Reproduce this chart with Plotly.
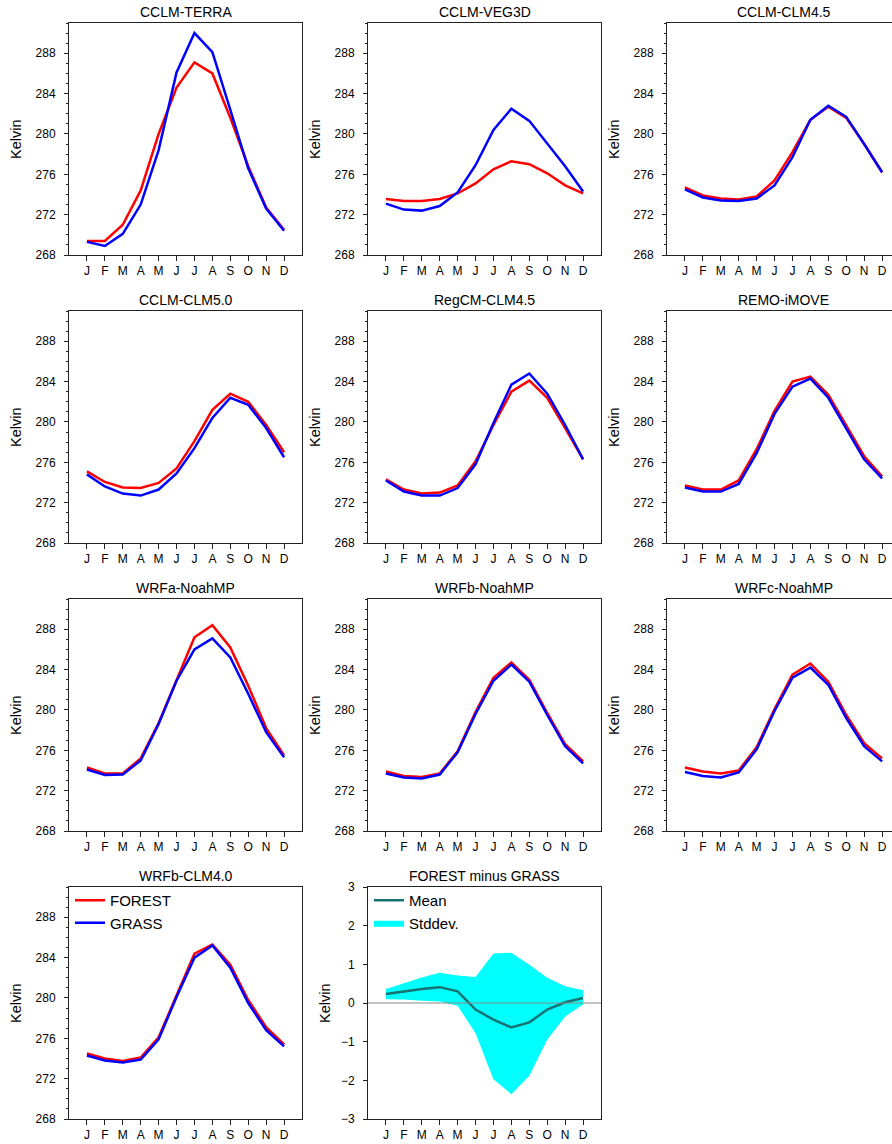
import plotly.graph_objects as go

months = ["J", "F", "M", "A", "M", "J", "J", "A", "S", "O", "N", "D"]
month_idx = list(range(12))

titles = ["CCLM-TERRA", "CCLM-VEG3D", "CCLM-CLM4.5",
          "CCLM-CLM5.0", "RegCM-CLM4.5", "REMO-iMOVE",
          "WRFa-NoahMP", "WRFb-NoahMP", "WRFc-NoahMP",
          "WRFb-CLM4.0"]

forest_terra = [269.4, 269.4, 271.0, 274.4, 280.0, 284.6, 287.1, 286.0, 281.6, 276.8, 272.7, 270.5]
grass_terra = [269.3, 268.9, 270.1, 273.0, 278.4, 286.1, 290.0, 288.1, 282.4, 276.6, 272.6, 270.4]

forest_veg3d = [273.55, 273.35, 273.35, 273.55, 274.1, 275.1, 276.5, 277.3, 277.0, 276.1, 274.9, 274.1]
grass_veg3d = [273.1, 272.5, 272.4, 272.85, 274.2, 276.9, 280.4, 282.5, 281.3, 279.0, 276.8, 274.3]

forest_clm45 = [274.7, 273.9, 273.6, 273.5, 273.8, 275.4, 278.2, 281.4, 282.7, 281.6, 279.0, 276.2]
grass_clm45 = [274.5, 273.7, 273.4, 273.35, 273.6, 274.9, 277.7, 281.4, 282.8, 281.7, 279.0, 276.2]

forest_clm50 = [275.1, 274.05, 273.5, 273.45, 273.95, 275.4, 278.1, 281.2, 282.8, 282.0, 279.7, 277.0]
grass_clm50 = [274.8, 273.6, 272.9, 272.7, 273.3, 274.9, 277.4, 280.4, 282.4, 281.7, 279.4, 276.5]

forest_regcm = [274.3, 273.3, 272.9, 273.0, 273.7, 276.1, 279.7, 283.0, 284.1, 282.4, 279.4, 276.3]
grass_regcm = [274.2, 273.1, 272.7, 272.7, 273.45, 275.8, 279.9, 283.7, 284.8, 282.8, 279.7, 276.3]

forest_remo = [273.7, 273.3, 273.3, 274.2, 277.3, 281.1, 284.0, 284.5, 282.7, 279.7, 276.6, 274.6]
grass_remo = [273.5, 273.1, 273.1, 273.85, 276.9, 280.8, 283.5, 284.3, 282.4, 279.4, 276.3, 274.4]

forest_wrfa = [274.3, 273.7, 273.7, 275.2, 278.7, 283.0, 287.2, 288.4, 286.2, 282.4, 278.2, 275.5]
grass_wrfa = [274.1, 273.55, 273.6, 275.0, 278.6, 282.9, 286.0, 287.1, 285.2, 281.6, 277.8, 275.3]

forest_wrfb = [273.9, 273.45, 273.35, 273.7, 275.9, 279.8, 283.2, 284.7, 283.0, 279.7, 276.6, 274.9]
grass_wrfb = [273.7, 273.3, 273.2, 273.6, 275.8, 279.6, 282.9, 284.5, 282.8, 279.5, 276.4, 274.7]

forest_wrfc = [274.3, 273.9, 273.7, 274.0, 276.3, 280.1, 283.5, 284.6, 282.8, 279.5, 276.7, 275.2]
grass_wrfc = [273.85, 273.45, 273.3, 273.8, 276.1, 279.9, 283.2, 284.2, 282.5, 279.2, 276.4, 274.9]

forest_wrfb_clm40 = [274.5, 274.0, 273.75, 274.1, 276.1, 280.3, 284.4, 285.3, 283.3, 279.8, 277.1, 275.4]
grass_wrfb_clm40 = [274.3, 273.8, 273.6, 273.9, 275.9, 280.1, 284.0, 285.2, 283.0, 279.5, 276.8, 275.2]

diff_mean = [0.23, 0.30, 0.36, 0.41, 0.30, -0.17, -0.43, -0.63, -0.50, -0.17, 0.02, 0.13]
diff_upper = [0.36, 0.52, 0.66, 0.78, 0.71, 0.67, 1.28, 1.30, 0.99, 0.65, 0.43, 0.33]
diff_lower = [0.10, 0.09, 0.06, 0.04, -0.07, -0.78, -1.97, -2.36, -1.88, -0.95, -0.35, -0.04]

forest_all = [forest_terra, forest_veg3d, forest_clm45, forest_clm50, forest_regcm,
              forest_remo, forest_wrfa, forest_wrfb, forest_wrfc, forest_wrfb_clm40]
grass_all = [grass_terra, grass_veg3d, grass_clm45, grass_clm50, grass_regcm,
             grass_remo, grass_wrfa, grass_wrfb, grass_wrfc, grass_wrfb_clm40]

# ---------------- layout geometry (pixels) ----------------
W, H = 892, 1144
col_left = [69, 368, 667]
plot_w = 233
row_top = [23, 311, 599, 887]
plot_h = 232
px_per_month = 233 / 13.0

FONT = "Liberation Sans, Arial, Helvetica, sans-serif"
RED = "#ff0000"
BLUE = "#0000ff"
TEAL = "#187272"
CYAN = "#00ffff"

fig = go.Figure()
layout = dict(
    width=W, height=H,
    margin=dict(l=0, r=0, t=0, b=0, pad=0, autoexpand=False),
    paper_bgcolor="white", plot_bgcolor="white",
    font=dict(family=FONT, size=12, color="black"),
    annotations=[], shapes=[],
)


def axis_names(i):
    s = "" if i == 1 else str(i)
    return "x" + s, "y" + s, "xaxis" + s, "yaxis" + s


def add_axes(i, r, c, yrange, ytickvals, minor):
    xn, yn, xk, yk = axis_names(i)
    x0 = col_left[c]
    x1 = min(x0 + plot_w, W)
    xmax = -1 + (x1 - x0) / px_per_month
    y0 = row_top[r]
    y1 = y0 + plot_h
    common = dict(showline=True, linecolor="#222", linewidth=1, mirror=True,
                  showgrid=False, zeroline=False, ticks="outside",
                  tickcolor="#222", tickwidth=1, fixedrange=True, automargin=False,
                  tickfont=dict(family=FONT, size=12, color="black"))
    layout[xk] = dict(common, domain=[x0 / W, x1 / W], range=[-1, xmax],
                      tickvals=month_idx, ticktext=months, ticklen=5,
                      anchor=yn)
    ydict = dict(common, domain=[1 - y1 / H, 1 - y0 / H], range=yrange,
                 tickvals=ytickvals, ticklen=4, anchor=xn,
                 ticklabelstandoff=6)
    if minor:
        ydict["minor"] = dict(dtick=1, tick0=268, ticklen=2.5, ticks="outside",
                              tickcolor="#222", tickwidth=1)
    layout[yk] = ydict
    return xn, yn, x0, x1, y0, y1


temp_ticks = [268, 272, 276, 280, 284, 288]

for i in range(10):
    r, c = divmod(i, 3)
    xn, yn, x0, x1, y0, y1 = add_axes(i + 1, r, c, [268, 291], temp_ticks, True)
    show = (i == 9)
    fig.add_trace(go.Scatter(x=month_idx, y=forest_all[i], mode="lines",
                             line=dict(color=RED, width=2.5), name="FOREST",
                             showlegend=show, legend="legend", legendrank=1,
                             xaxis=xn, yaxis=yn, hoverinfo="skip"))
    fig.add_trace(go.Scatter(x=month_idx, y=grass_all[i], mode="lines",
                             line=dict(color=BLUE, width=2.5), name="GRASS",
                             showlegend=show, legend="legend", legendrank=2,
                             xaxis=xn, yaxis=yn, hoverinfo="skip"))
    cx = (col_left[c] + col_left[c] + plot_w) / 2
    layout["annotations"].append(dict(
        text=titles[i], x=cx / W, y=1 - (y0 - 1) / H, xref="paper", yref="paper",
        xanchor="center", yanchor="bottom", showarrow=False,
        font=dict(family=FONT, size=14, color="black")))
    layout["annotations"].append(dict(
        text="Kelvin", x=(col_left[c] - 53) / W, y=1 - (y0 + plot_h / 2) / H,
        xref="paper", yref="paper", xanchor="center", yanchor="middle",
        textangle=-90, showarrow=False,
        font=dict(family=FONT, size=14.5, color="black")))

# ---------------- difference panel ----------------
xn, yn, x0, x1, y0, y1 = add_axes(11, 3, 1, [-3, 3], [-3, -2, -1, 0, 1, 2, 3], False)
fig.add_trace(go.Scatter(x=month_idx, y=diff_lower, mode="lines",
                         line=dict(width=0, color=CYAN), showlegend=False,
                         legend="legend2", xaxis=xn, yaxis=yn, hoverinfo="skip"))
fig.add_trace(go.Scatter(x=month_idx, y=diff_upper, mode="lines", fill="tonexty",
                         fillcolor=CYAN, line=dict(width=0, color=CYAN),
                         name="Stddev.", legend="legend2", legendrank=2,
                         xaxis=xn, yaxis=yn, hoverinfo="skip"))
fig.add_trace(go.Scatter(x=month_idx, y=diff_mean, mode="lines",
                         line=dict(color=TEAL, width=2.5), name="Mean",
                         legend="legend2", legendrank=1,
                         xaxis=xn, yaxis=yn, hoverinfo="skip"))
layout["shapes"].append(dict(type="line", xref="x11 domain", yref="y11",
                             x0=0, x1=1, y0=0, y1=0, layer="above",
                             line=dict(color="#888888", width=1.2)))
cx = (col_left[1] + col_left[1] + plot_w) / 2
layout["annotations"].append(dict(
    text="FOREST minus GRASS", x=cx / W, y=1 - (y0 - 1) / H, xref="paper", yref="paper",
    xanchor="center", yanchor="bottom", showarrow=False,
    font=dict(family=FONT, size=14, color="black")))
layout["annotations"].append(dict(
    text="Kelvin", x=(col_left[1] - 43) / W, y=1 - (y0 + plot_h / 2) / H,
    xref="paper", yref="paper", xanchor="center", yanchor="middle",
    textangle=-90, showarrow=False,
    font=dict(family=FONT, size=14.5, color="black")))

# legends
layout["legend"] = dict(x=(col_left[0] + 1) / W, y=1 - (row_top[3] - 3) / H,
                        xanchor="left", yanchor="top", bgcolor="rgba(0,0,0,0)",
                        font=dict(family=FONT, size=15, color="black"),
                        traceorder="normal", itemwidth=30)
layout["legend2"] = dict(x=(col_left[1] + 1) / W, y=1 - (row_top[3] - 3) / H,
                         xanchor="left", yanchor="top", bgcolor="rgba(0,0,0,0)",
                         font=dict(family=FONT, size=15, color="black"),
                         traceorder="normal", itemwidth=30)

fig.update_layout(**layout)
fig.write_html(
    "out.html",
    config={"displayModeBar": False},
    post_script="document.body.style.margin='0';document.body.style.overflow='hidden';",
)
